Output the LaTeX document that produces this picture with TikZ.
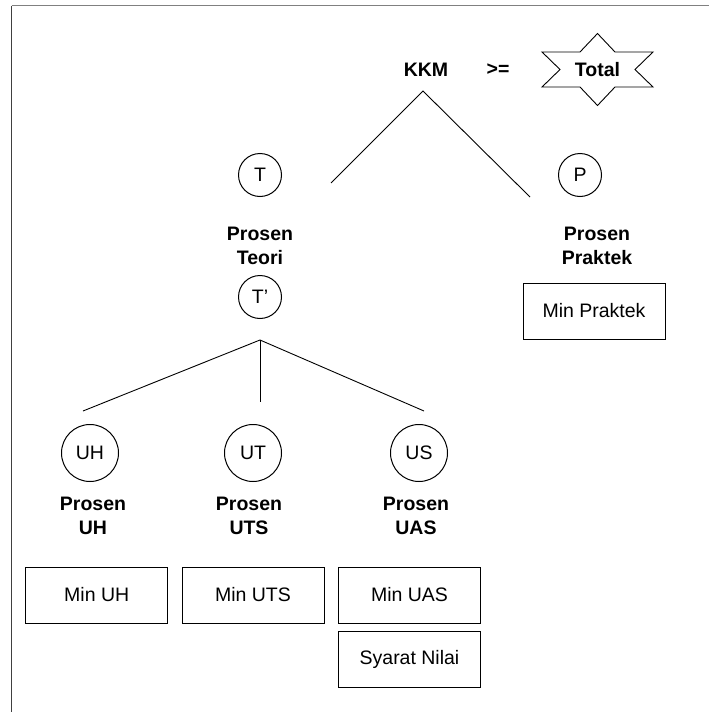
\documentclass[tikz,border=0pt]{standalone}
\usepackage{fontspec}
\setmainfont{Liberation Sans}
\begin{document}
\begin{tikzpicture}[x=1pt,y=-1pt,line width=1pt,
  every node/.style={font=\fontsize{19.5}{24}\selectfont, inner sep=0pt},
  lbl/.style={font=\fontsize{19.5}{24}\selectfont\bfseries, align=center},
  smallcirc/.style={draw, circle, minimum size=43pt},
  bigcirc/.style={draw, circle, minimum size=57pt},
  minbox/.style={draw, rectangle, minimum width=142pt, minimum height=56pt},
  edge/.style={draw, line width=0.9pt}]
\useasboundingbox (0,0) rectangle (709,712);
\fill[white] (0,0) rectangle (709,712);
% frame
\draw[gray, line width=1.2pt] (11.7,5.7) -- (709,5.7);
\draw[black!75, line width=1.2pt] (11.7,5.7) -- (11.7,712);

% top row
\node[lbl] (kkm) at (426,70) {KKM};
\node[lbl] (ge) at (498,70) {>=};
\draw[line width=0.9pt] (597.5,69.5) ++(-55.5,-17.5) coordinate (s1)
  -- ++(38,0) -- ++(17.5,-18.5) -- ++(17.5,18.5) -- ++(38,0)
  -- ++(-18,17.5) -- ++(18,17.5) -- ++(-38,0) -- ++(-17.5,18.5)
  -- ++(-17.5,-18.5) -- ++(-38,0) -- ++(18,-17.5) -- cycle;
\node[lbl] (total) at (597.5,70) {Total};

% upper tree
\coordinate (apex) at (423,91);
\coordinate (leftend) at (331,183);
\coordinate (rightend) at (530,197);
\draw[edge] (leftend) -- (apex) -- (rightend);

\node[smallcirc] (T) at (260,175) {T};
\node[smallcirc] (P) at (580,175) {P};
\node[lbl] (pteori) at (260,246) {Prosen\\Teori};
\node[lbl] (ppraktek) at (597,246) {Prosen\\Praktek};
\node[smallcirc] (Tp) at (260,297) {T’};
\node[minbox] (minpraktek) at (594,311) {Min Praktek};

% lower tree
\coordinate (hub) at (260,340);
\coordinate (e1) at (83,411);
\coordinate (e2) at (260,402);
\coordinate (e3) at (424,411);
\draw[edge] (hub) -- (e1);
\draw[edge] (hub) -- (e2);
\draw[edge] (hub) -- (e3);

\node[bigcirc] (UH) at (90,453) {UH};
\node[bigcirc] (UT) at (253,453) {UT};
\node[bigcirc] (US) at (419,453) {US};

\node[lbl] (puh) at (93,516) {Prosen\\UH};
\node[lbl] (puts) at (249,516) {Prosen\\UTS};
\node[lbl] (puas) at (416,516) {Prosen\\UAS};

\node[minbox] (minuh) at (96.7,595) {Min UH};
\node[minbox] (minuts) at (253,595) {Min UTS};
\node[minbox] (minuas) at (409.5,595) {Min UAS};
\node[minbox] (syarat) at (409.5,659) {Syarat Nilai};
\end{tikzpicture}
\end{document}
